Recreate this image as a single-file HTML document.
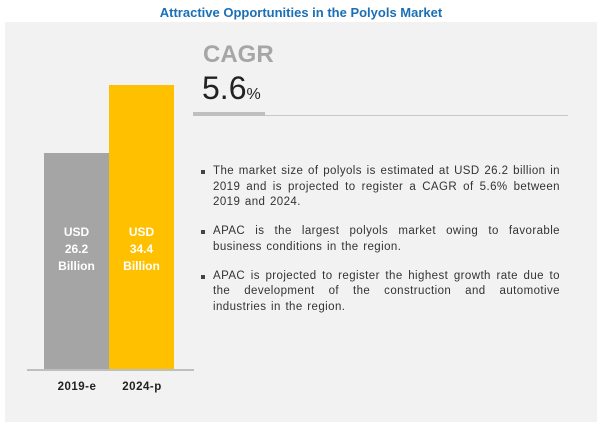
<!DOCTYPE html>
<html><head><meta charset="utf-8"><style>
body{margin:0;width:602px;height:434px;background:#fff;font-family:"Liberation Sans",sans-serif;position:relative;overflow:hidden}
.abs{position:absolute}
#panel{left:5px;top:22px;width:592px;height:400px;background:#f2f2f2}
#title{left:0;width:602px;top:5px;text-align:center;color:#1a6fb5;font-weight:bold;font-size:13px}
.bl{font-weight:bold;font-size:11.5px;color:#222;text-align:center;width:66px;letter-spacing:0.5px}
.bv{color:#fff;font-weight:bold;font-size:12px;text-align:center;line-height:17px;width:65px}
ul{margin:0;padding:0;list-style:none}
li{position:relative;font-size:11.5px;letter-spacing:0.42px;word-spacing:1px;color:#333;line-height:15.5px;text-align:justify;margin-bottom:13.5px;text-align-last:left}
li:before{content:"";position:absolute;left:-12px;top:6px;width:4px;height:4px;background:#444}
</style></head><body>
<div class="abs" id="panel"></div>
<div class="abs" id="title">Attractive Opportunities in the Polyols Market</div>
<div class="abs" style="left:203px;top:41px;font-size:24px;font-weight:bold;color:#a6a6a6">CAGR</div>
<div class="abs" style="left:202px;top:70px;font-size:32px;color:#222">5.6<span style="font-size:16px">%</span></div>
<div class="abs" style="left:193px;top:112px;width:72px;height:4px;background:#bfbfbf"></div>
<div class="abs" style="left:265px;top:115px;width:303px;height:1px;background:#c8c8c8"></div>
<div id="chart"></div>
<div class="abs" style="left:213px;top:164px;width:347px">
<ul>
<li>The market size of polyols is estimated at USD 26.2 billion in 2019 and is projected to register a CAGR of 5.6% between 2019 and 2024.</li>
<li>APAC is the largest polyols market owing to favorable business conditions in the region.</li>
<li>APAC is projected to register the highest growth rate due to the development of the construction and automotive industries in the region.</li>
</ul></div>
<script>
const categories=["2019-e","2024-p"];
const values=[26.2,34.4];
const colors=["#a5a5a5","#ffc000"];
const baseY=369, scale=8.26, x0=44, bw=65;
function y(v){return baseY-v*scale;}
const c=document.getElementById('chart');
categories.forEach((cat,i)=>{
  const b=document.createElement('div');
  b.className='abs';
  
  
  b.style.cssText=`left:${x0+i*bw}px;top:${y(values[i])}px;width:${bw}px;height:${values[i]*scale}px;background:${colors[i]}`;
  c.appendChild(b);
  const t=document.createElement('div');
  t.className='abs bv';
  
  
  t.style.left=(x0+i*bw)+'px';t.style.top='224px';
  t.innerHTML='USD<br>'+values[i].toFixed(1)+'<br>Billion';
  c.appendChild(t);
  const l=document.createElement('div');
  l.className='abs bl';
  
  
  l.style.left=(x0+i*bw)+'px';l.style.top='381px';
  l.textContent=cat;
  c.appendChild(l);
});
const ax=document.createElement('div');
ax.className='abs';


ax.style.cssText='left:27px;top:369px;width:167px;height:2px;background:#bfbfbf';
c.appendChild(ax);
</script>
</body></html>
